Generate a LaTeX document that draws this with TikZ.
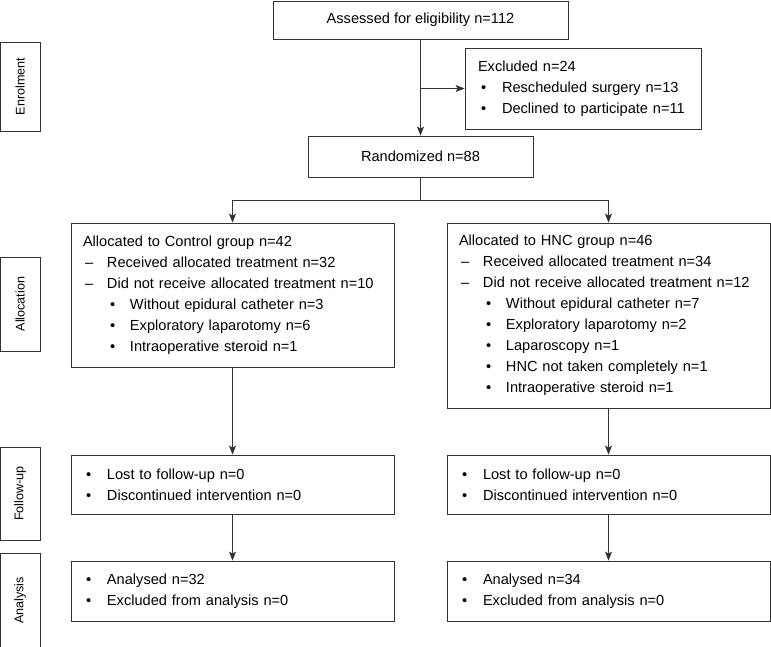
\documentclass[tikz,border=0pt]{standalone}
\usepackage{fontspec}
\setmainfont{Liberation Sans}
\usetikzlibrary{arrows.meta}

\newcommand{\dsh}{\makebox[24pt][l]{\hspace{2pt}--}}
\newcommand{\bul}{\makebox[24pt][l]{\hspace{3pt}\textbullet}}
\newcommand{\subbul}{\makebox[47pt][l]{\hspace{27pt}\textbullet}}

\begin{document}
\begin{tikzpicture}[x=1pt, y=-1pt]
		\tikzset{box/.style={rectangle, draw=black!80, line width=0.8pt, align=left, inner xsep=12pt, inner ysep=0pt, font=\fontsize{14.6}{21}\selectfont}};
		\tikzset{side/.style={rectangle, draw=black!80, line width=0.8pt, rotate=90, inner sep=0pt, minimum height=40pt, font=\fontsize{12.6}{14}\selectfont}};
		\tikzset{arr/.style={draw=black!80, line width=0.8pt, -{Stealth[length=9pt, width=7pt, inset=2pt]}}};

		\useasboundingbox (0,0) rectangle (771,647);

		\node[side, minimum width=89pt] (enrol) at (20, 86.5) {Enrolment};
		\node[side, minimum width=94pt] (alloc) at (20, 304) {Allocation};
		\node[side, minimum width=93pt] (follow) at (20, 493.5) {Follow-up};
		\node[side, minimum width=95pt] (analysis) at (20, 600.5) {Analysis};

		\node[box, align=center, minimum width=295pt, minimum height=38pt] (assess) at (420.5, 20) {Assessed for eligibility n=112};
		\node[box, inner xsep=13pt, text width=210pt, minimum height=81pt] (excl) at (583, 88.5) {Excluded n=24\\
			\bul Rescheduled surgery n=13\\
			\bul Declined to participate n=11};
		\node[box, align=center, minimum width=225pt, minimum height=41pt] (rand) at (420.5, 156.5) {Randomized n=88};

		\node[box, text width=299pt, minimum height=144pt] (ctrl) at (232.5, 295) {Allocated to Control group n=42\\
			\dsh Received allocated treatment n=32\\
			\dsh Did not receive allocated treatment n=10\\
			\subbul Without epidural catheter n=3\\
			\subbul Exploratory laparotomy n=6\\
			\subbul Intraoperative steroid n=1};
		\node[box, text width=299pt, minimum height=185pt] (hnc) at (608.5, 315.5) {Allocated to HNC group n=46\\
			\dsh Received allocated treatment n=34\\
			\dsh Did not receive allocated treatment n=12\\
			\subbul Without epidural catheter n=7\\
			\subbul Exploratory laparotomy n=2\\
			\subbul Laparoscopy n=1\\
			\subbul HNC not taken completely n=1\\
			\subbul Intraoperative steroid n=1};

		\node[box, text width=299pt, minimum height=59pt] (fuctrl) at (232.5, 484.5) {\bul Lost to follow-up n=0\\
			\bul Discontinued intervention n=0};
		\node[box, text width=299pt, minimum height=59pt] (fuhnc) at (608.5, 484.5) {\bul Lost to follow-up n=0\\
			\bul Discontinued intervention n=0};

		\node[box, text width=299pt, minimum height=60pt] (anctrl) at (232.5, 591) {\bul Analysed n=32\\
			\bul Excluded from analysis n=0};
		\node[box, text width=299pt, minimum height=60pt] (anhnc) at (608.5, 591) {\bul Analysed n=34\\
			\bul Excluded from analysis n=0};

		\coordinate (split) at (assess.south |- excl.west);
		\coordinate (fork) at (420.5, 200);

		\draw[arr] (assess) to (rand);
		\draw[arr] (split) to (excl);

		\draw[draw=black!80, line width=0.8pt] (rand) to (fork);
		\draw[arr] (fork) -| (ctrl);
		\draw[arr] (fork) -| (hnc);

		\draw[arr] (ctrl) to (fuctrl);
		\draw[arr] (hnc) to (fuhnc);

		\draw[arr] (fuctrl) to (anctrl);
		\draw[arr] (fuhnc) to (anhnc);
	\end{tikzpicture}
\end{document}
